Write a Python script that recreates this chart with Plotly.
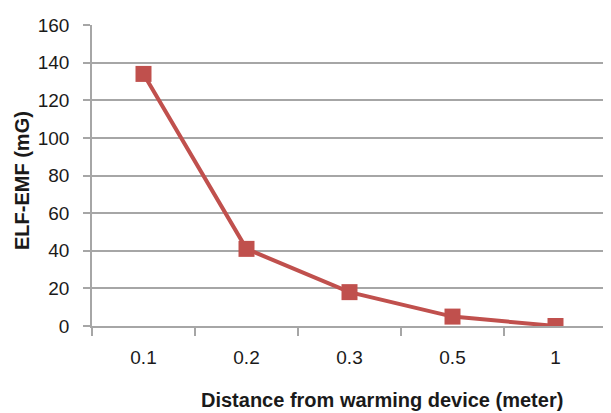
import plotly.graph_objects as go

distances = ["0.1", "0.2", "0.3", "0.5", "1"]
elf_emf = [134, 41, 18, 5, 0]
y_ticks = [0, 20, 40, 60, 80, 100, 120, 140, 160]

red = "#C0504D"
grid = "#A6A6A6"
font_family = "Liberation Sans, Arial"

# page body has an 8px margin; size the figure to fit the 611x413 window
W, H = 603, 405
L, R, T, B = 84, 4, 17, 87
pw, ph = W - L - R, H - T - B

fig = go.Figure()
fig.add_trace(go.Scatter(
    x=distances, y=elf_emf, mode="lines+markers",
    line=dict(color=red, width=4),
    marker=dict(symbol="square", size=16, color=red),
    showlegend=False,
))

fig.update_layout(
    width=W, height=H,
    margin=dict(l=L, r=R, t=T, b=B),
    plot_bgcolor="white", paper_bgcolor="white",
    font=dict(family=font_family, size=19, color="#1a1a1a"),
    xaxis=dict(
        type="category", tickson="boundaries", ticks="outside", ticklen=8,
        tickcolor=grid, tickwidth=1.5, showline=True, linecolor=grid, linewidth=1.5,
        showgrid=False, tickfont=dict(size=19), range=[-0.5, 4.5],
        ticklabelstandoff=13,
    ),
    yaxis=dict(
        range=[0, 160], tickvals=y_ticks, ticks="outside", ticklen=7,
        tickcolor=grid, tickwidth=1.5, showline=True, linecolor=grid, linewidth=1.5,
        showgrid=True, gridcolor=grid, gridwidth=1.5, zeroline=False,
        tickfont=dict(size=19), ticklabelstandoff=10,
    ),
    annotations=[
        dict(text="<b>Distance from warming device (meter)</b>", xref="paper", yref="paper",
             x=(382 - 92) / pw, y=-(400 - 326) / ph, showarrow=False,
             font=dict(size=20), xanchor="center", yanchor="middle"),
        dict(text="<b>ELF-EMF (mG)</b>", xref="paper", yref="paper",
             x=-(92 - 22) / pw, y=(326 - 181) / ph, showarrow=False,
             textangle=-90, font=dict(size=20), xanchor="center", yanchor="middle"),
    ],
)

fig.write_html("out.html")
